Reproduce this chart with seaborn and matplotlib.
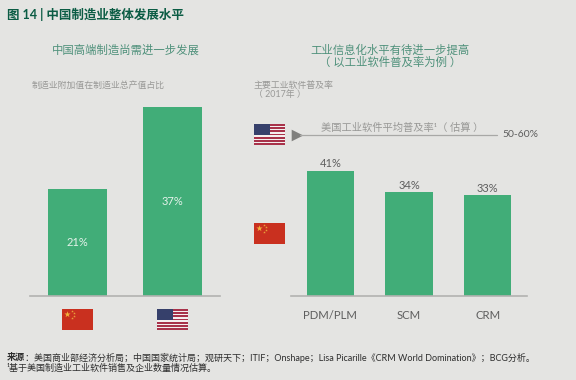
"""
 Recreates figure 14: two bar panels on China's manufacturing level
"""

# Libraries
import matplotlib
matplotlib.use("Agg")
import matplotlib.pyplot as plt
from matplotlib.patches import Rectangle
import pandas as pd
import seaborn as sns

# Data
share_labels = ["中国", "美国"]
share_values = [21, 37]
software_labels = ["PDM/PLM", "SCM", "CRM"]
software_values = [41, 34, 33]

# Colours
BACKGROUND = "#E4E4E2"
GREEN = "#41AD78"
DARK_GREEN = "#0B5C44"
MID_GREEN = "#4F917B"
GREY = "#989896"
DARK_GREY = "#5E5E5E"
WIDTH, HEIGHT = 576, 380

sns.set_style("white")
plt.rcParams["font.family"] = ["Lato", "Noto Sans CJK SC", "DejaVu Sans"]

def add_axes(fig, left:float, top:float, right:float, bottom:float):
    """
    Adds an axes from pixel positions (measured from the top left)
    """
    return fig.add_axes([left/WIDTH, 1-bottom/HEIGHT, (right-left)/WIDTH, (bottom-top)/HEIGHT])

def plot_bars(axis, labels:list, values:list, width:float, per_pixel:float, height:float) -> None:
    """
    Draws a panel of bars with a plain baseline
    """
    data = pd.DataFrame({"label": labels, "value": values})
    sns.barplot(data=data, x="label", y="value", ax=axis, color=GREEN, width=width, saturation=1, linewidth=0)
    axis.set_xlim(-0.5, len(labels)-0.5)
    axis.set_ylim(0, height*per_pixel)
    axis.set_xlabel("")
    axis.set_ylabel("")
    axis.set_yticks([])
    axis.patch.set_alpha(0)
    sns.despine(ax=axis, left=True)
    axis.spines["bottom"].set_color("#B2B2B0")
    axis.spines["bottom"].set_linewidth(1.2)

def draw_china(fig, left:float, top:float) -> None:
    """
    Draws the Chinese flag
    """
    axis = add_axes(fig, left, top, left+31, top+21)
    axis.set_xlim(0, 30)
    axis.set_ylim(20, 0)
    axis.axis("off")
    axis.add_patch(Rectangle((0, 0), 30, 20, color="#C9301F"))
    axis.scatter([5], [5], marker="*", s=22, color="#F2B33D", linewidths=0)
    axis.scatter([10, 12, 12, 10], [2, 4, 7, 9], marker="*", s=4, color="#E8A03A", linewidths=0)

def draw_usa(fig, left:float, top:float) -> None:
    """
    Draws the American flag
    """
    axis = add_axes(fig, left, top, left+31, top+21)
    axis.set_xlim(0, 13)
    axis.set_ylim(13, 0)
    axis.axis("off")
    axis.add_patch(Rectangle((0, 0), 13, 13, color="#F4EEEE"))
    for stripe in range(0, 13, 2):
        axis.add_patch(Rectangle((0, stripe), 13, 1, color="#A8324A", linewidth=0))
    axis.add_patch(Rectangle((0, 0), 6.7, 7, color="#36406B", linewidth=0))

# Create figure
fig = plt.figure(figsize=(WIDTH/100, HEIGHT/100), dpi=100, facecolor=BACKGROUND)

# Add the bars
left_axis = add_axes(fig, 30, 100, 220, 296)
plot_bars(left_axis, share_labels, share_values, 0.63, 21/107, 196)
left_axis.set_xticks([])
right_axis = add_axes(fig, 291, 160, 527, 296)
plot_bars(right_axis, software_labels, software_values, 0.605, 41/125, 136)
right_axis.tick_params(axis="x", length=0, pad=10, labelsize=8.2, labelcolor=DARK_GREY)

# Add the bar labels
for patch, value in zip(left_axis.patches, share_values):
    left_axis.text(patch.get_x()+patch.get_width()/2, value/2, f"{value}%", ha="center", va="center",
                   color="#E4F2EA", fontsize=8)
for patch, value in zip(right_axis.patches, software_values):
    right_axis.text(patch.get_x()+patch.get_width()/2, value+0.6, f"{value}%", ha="center", va="bottom",
                    color=DARK_GREY, fontsize=8)

# Add the flags
draw_china(fig, 62, 309)
draw_usa(fig, 157, 309)
draw_usa(fig, 254, 124)
draw_china(fig, 254, 223)

# Add the overlay for the benchmark and the texts
overlay = add_axes(fig, 0, 0, WIDTH, HEIGHT)
overlay.set_xlim(0, WIDTH)
overlay.set_ylim(HEIGHT, 0)
overlay.axis("off")
overlay.plot([300, 497], [135, 135], color="#A8A8A6", linewidth=0.9)
overlay.scatter([297], [135], marker=">", s=70, color="#7F7F7D", linewidths=0)
overlay.text(321, 128, "美国工业软件平均普及率¹（ 估算 ）", fontsize=7.4, color=GREY, va="center")
overlay.text(502, 134.5, "50-60%", fontsize=7.5, color=DARK_GREY, va="center")

overlay.text(7, 14, "图 14 | 中国制造业整体发展水平", fontsize=9, fontweight="bold", color=DARK_GREEN, va="center")
overlay.text(125.5, 50, "中国高端制造尚需进一步发展", fontsize=8.2, color=MID_GREEN, ha="center", va="center")
overlay.text(390, 50, "工业信息化水平有待进一步提高", fontsize=8.2, color=MID_GREEN, ha="center", va="center")
overlay.text(390, 62, "（ 以工业软件普及率为例 ）", fontsize=8.2, color=MID_GREEN, ha="center", va="center")
overlay.text(32, 85.5, "制造业附加值在制造业总产值占比", fontsize=6.4, color=GREY, va="center")
overlay.text(254, 85, "主要工业软件普及率", fontsize=6.4, color=GREY, va="center")
overlay.text(254, 94.5, "（ 2017年 ）", fontsize=6.4, color=GREY, va="center")
overlay.text(7, 357.5, "来源", fontsize=6.5, fontweight="bold", color="#2E2E2E", va="center")
overlay.text(25, 357.5, "：美国商业部经济分析局；中国国家统计局；观研天下；ITIF；Onshape；Lisa Picarille《CRM World Domination》；BCG分析。",
             fontsize=6.5, color="#2E2E2E", va="center")
overlay.text(7, 368.5, "¹基于美国制造业工业软件销售及企业数量情况估算。", fontsize=6.5, color="#2E2E2E", va="center")

# Format and save figure
fig.savefig("out.png", dpi=100, facecolor=BACKGROUND)
